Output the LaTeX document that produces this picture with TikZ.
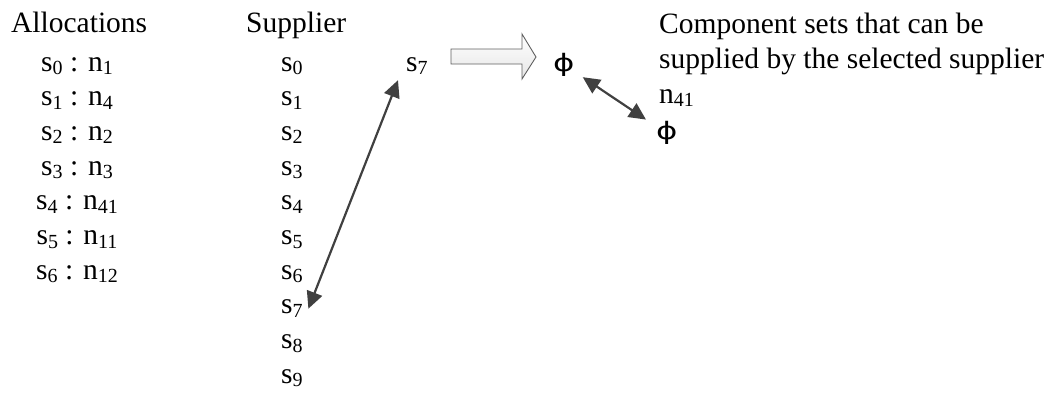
\documentclass[tikz,border=0pt]{standalone}
\usepackage{fontspec}
\setmainfont{Liberation Serif}
\newfontfamily\phifont{DejaVu Sans}
\usetikzlibrary{arrows.meta,calc}

% lowered, smaller index digits
\newcommand{\subidx}[1]{\raisebox{-3.5pt}{\fontsize{20}{20}\selectfont #1}}
% slightly widened phi symbol
\newcommand{\widephi}{\scalebox{1.35}[1]{ɸ}}

\definecolor{darkline}{HTML}{404040}
\definecolor{blockedge}{HTML}{606060}

\tikzset{
  lbl/.style={anchor=base west, inner sep=1pt, font=\fontsize{29.5}{34.7}\selectfont},
  row/.style={anchor=base, inner sep=1pt, font=\fontsize{29.5}{34.7}\selectfont},
  phisym/.style={anchor=base west, inner sep=1pt, font=\phifont\fontsize{24}{28}\selectfont},
  link/.style={draw=darkline, line width=2.2pt,
    {Triangle[length=17pt,width=16pt]}-{Triangle[length=17pt,width=16pt]}},
  blockarrow/.style={draw=blockedge, line width=0.9pt, top color=white, bottom color=black!10}
}

\begin{document}
\begin{tikzpicture}[x=1pt,y=-1pt]
\useasboundingbox (0,0) rectangle (1053,394);

% headers
\node[lbl] (alloc) at (10,32) {Allocations};
\node[lbl] (supp) at (245,32) {Supplier};

% current allocations
\foreach \i/\n in {0/1,1/4,2/2,3/3,4/41,5/11,6/12}
  \node[row] (a\i) at (77,{71+34.7*\i}) {s\subidx{\i} : n\subidx{\n}};

% supplier list
\foreach \i in {0,...,9}
  \node[lbl] (l\i) at (280,{71+34.7*\i}) {s\subidx{\i}};

% selected supplier
\node[lbl] (sel) at (405,71) {s\subidx{7}};

% block arrow towards the result
\path[blockarrow] (451,49) -- (522,49) -- (522,34) -- (536,57)
  -- (522,79) -- (522,64) -- (451,64) -- cycle;

\node[phisym] (phi1) at (552,71) {\widephi};

% component sets
\node[lbl] (cap1) at (658,33) {Component sets that can be};
\node[lbl] (cap2) at (658,68) {supplied by the selected supplier};
\node[lbl] (n41) at (658,103) {n\subidx{41}};
\node[phisym] (phi2) at (655,139) {\widephi};

% connectors
\draw[link] ([xshift=-7pt,yshift=-4.5pt]sel.south west) -- ([xshift=4.5pt]l7.east);
\draw[link] ([xshift=7pt]phi1.south east) -- ([xshift=-9pt]phi2.north west);
\end{tikzpicture}
\end{document}
